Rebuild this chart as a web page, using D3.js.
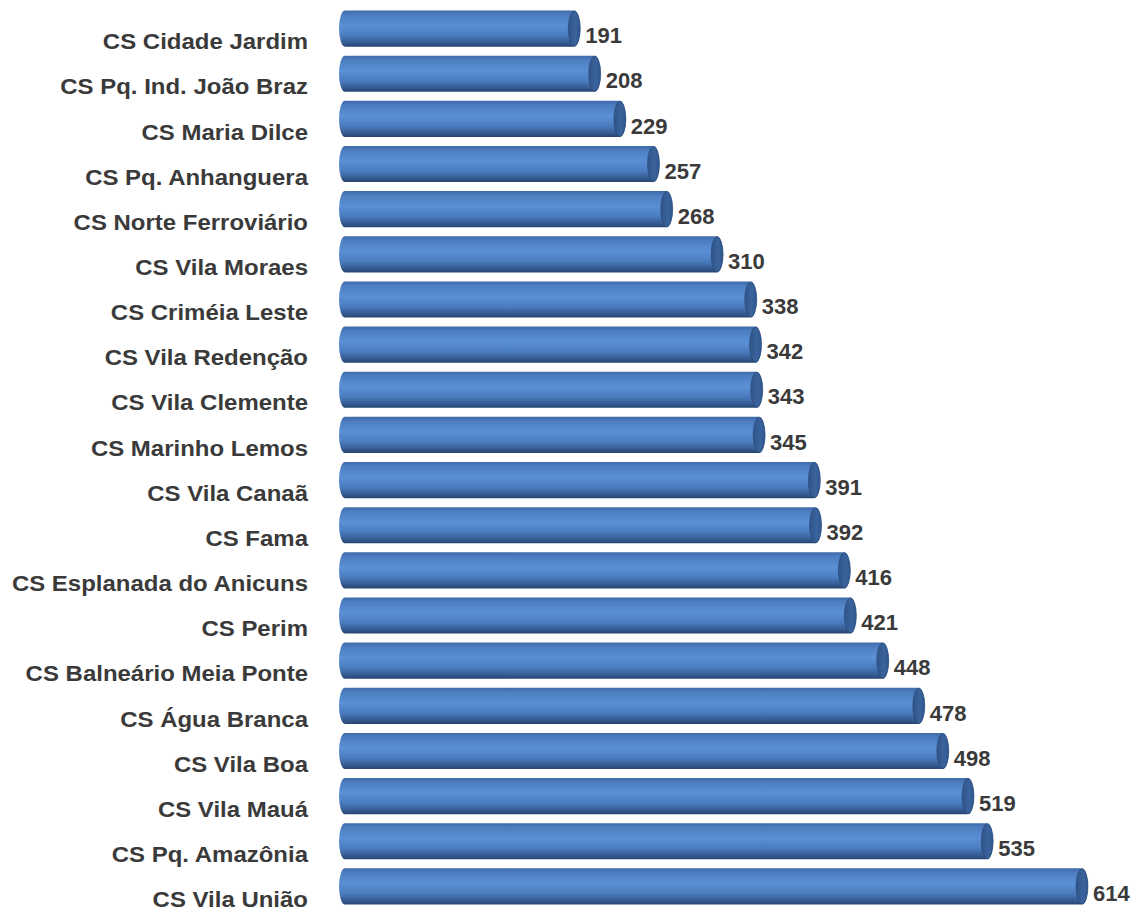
<!DOCTYPE html>
<meta charset="utf-8">
<script src="https://cdn.jsdelivr.net/npm/d3@7"></script>
<style>
  body { margin: 0; background: #fff; }
  text { font-family: "Liberation Sans", Arial, sans-serif; font-weight: bold; fill: #3a3a3a; }
</style>
<body>
<script>

// data, top to bottom
var units = ["CS Cidade Jardim", "CS Pq. Ind. João Braz", "CS Maria Dilce", "CS Pq. Anhanguera",
  "CS Norte Ferroviário", "CS Vila Moraes", "CS Criméia Leste", "CS Vila Redenção",
  "CS Vila Clemente", "CS Marinho Lemos", "CS Vila Canaã", "CS Fama",
  "CS Esplanada do Anicuns", "CS Perim", "CS Balneário Meia Ponte", "CS Água Branca",
  "CS Vila Boa", "CS Vila Mauá", "CS Pq. Amazônia", "CS Vila União"];
var counts = [191, 208, 229, 257, 268, 310, 338, 342, 343, 345,
  391, 392, 416, 421, 448, 478, 498, 519, 535, 614];

var width = 1135, height = 908;
var svg = d3.select("body").append("svg")
    .attr("width", width)
    .attr("height", height);

var x = d3.scaleLinear().domain([0, 614]).range([345, 1082]);
var y = d3.scaleBand().domain(units).range([6, 909]).paddingInner(0.2).paddingOuter(0.1);
var rx = 6, ry = y.bandwidth() / 2;

// cylinder shading
var defs = svg.append("defs");
var body = defs.append("linearGradient").attr("id", "body")
    .attr("x1", 0).attr("y1", 0).attr("x2", 0).attr("y2", 1);
[[0, "#3f6aa8"], [0.12, "#4c7dc0"], [0.42, "#5b90d6"], [0.7, "#4a7bbd"], [0.9, "#34598f"], [1, "#27456f"]]
  .forEach(function(s) { body.append("stop").attr("offset", s[0]).attr("stop-color", s[1]); });
var cap = defs.append("linearGradient").attr("id", "cap")
    .attr("x1", 0).attr("y1", 0).attr("x2", 1).attr("y2", 0);
[[0, "#2f5488"], [0.6, "#3a639d"], [1, "#30578c"]]
  .forEach(function(s) { cap.append("stop").attr("offset", s[0]).attr("stop-color", s[1]); });

var rows = svg.selectAll("g.row").data(units).enter().append("g")
    .attr("class", "row")
    .attr("transform", function(d) { return "translate(0," + (y(d) + ry) + ")"; });

rows.append("path")
    .attr("d", function(d, i) {
      var x0 = x(0), x1 = x(counts[i]);
      return "M" + x0 + "," + (-ry) + "L" + x1 + "," + (-ry) +
        "A" + rx + "," + ry + " 0 0 1 " + x1 + "," + ry +
        "L" + x0 + "," + ry +
        "A" + rx + "," + ry + " 0 0 1 " + x0 + "," + (-ry) + "Z";
    })
    .style("fill", "url(#body)");

rows.append("ellipse")
    .attr("cx", function(d, i) { return x(counts[i]); })
    .attr("cy", 0)
    .attr("rx", rx).attr("ry", ry - 0.5)
    .style("fill", "url(#cap)")
    .style("stroke", "#2a4a78").style("stroke-width", 0.6);

// category labels sit a bit below the bar centre and are drawn slightly wide
rows.append("text")
    .attr("transform", "translate(308,13) scale(1.09,1)")
    .attr("dy", "0.35em")
    .attr("text-anchor", "end")
    .style("font-size", "22px")
    .text(function(d) { return d; });

rows.append("text")
    .attr("x", function(d, i) { return x(counts[i]) + rx + 5; })
    .attr("y", 7)
    .attr("dy", "0.35em")
    .style("font-size", "22px")
    .text(function(d, i) { return counts[i]; });

</script>
</body>
